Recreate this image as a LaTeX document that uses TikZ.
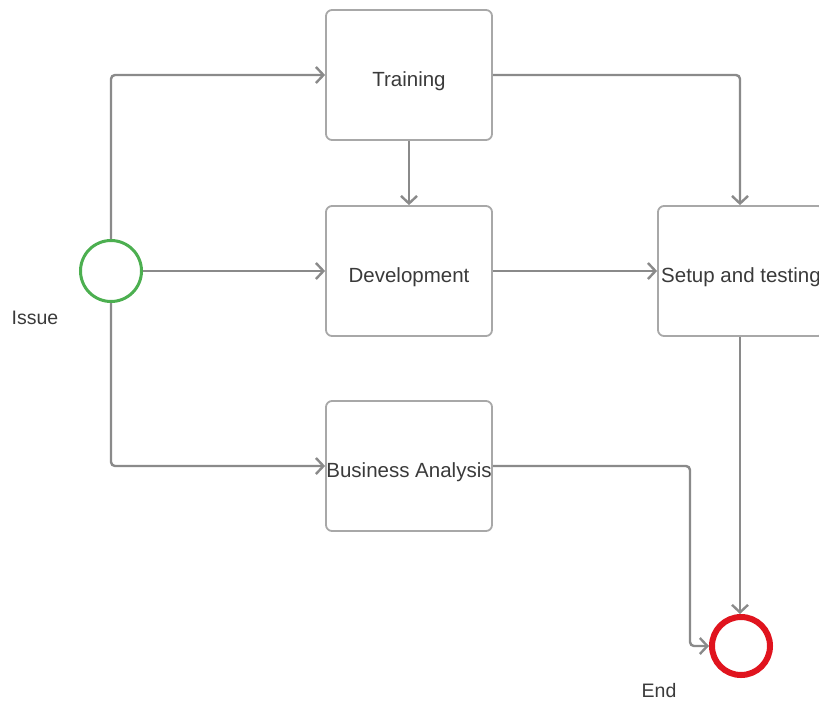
\documentclass[tikz,border=0pt]{standalone}
\usepackage{fontspec}
\setmainfont{Liberation Sans}
\usetikzlibrary{arrows.meta}
\definecolor{boxline}{HTML}{A8A8A8}
\definecolor{flow}{HTML}{8A8A8A}
\definecolor{ink}{HTML}{3A3A3A}
\definecolor{startgreen}{HTML}{4CAF50}
\definecolor{endred}{HTML}{E0141E}
\begin{document}
\begin{tikzpicture}[x=1pt,y=-1pt,
  task/.style={draw=boxline,line width=1.8pt,rounded corners=6pt,minimum width=166pt,minimum height=130pt,
    inner sep=0pt,text depth=0pt,font=\fontsize{20.5}{23}\selectfont,text=ink},
  tasktext/.style={font=\fontsize{20.5}{23}\selectfont,text=ink,inner sep=0pt},
  flowline/.style={draw=flow,line width=2.4pt,rounded corners=4pt,
    -{Straight Barb[length=7.5pt,width=16pt,line width=2.4pt]}},
  lbl/.style={font=\fontsize{19.5}{22}\selectfont,text=ink}]
\useasboundingbox (0,0) rectangle (819,702);
% tasks
\node[task] (train) at (409,75) {};
\node[task] (dev) at (409,271) {};
\node[task] (ba) at (409,466) {};
\node[task] (setup) at (741,271) {};
\node[tasktext] (traintxt) at ([yshift=-6pt]train.center) {Training};
\node[tasktext] (devtxt) at ([yshift=-6pt]dev.center) {Development};
\node[tasktext] (batxt) at ([yshift=-6pt]ba.center) {Business Analysis};
\node[tasktext] (setuptxt) at ([yshift=-6pt]setup.center) {Setup and testing};
% events
\node[circle,draw=startgreen,line width=3pt,minimum size=61pt,inner sep=0pt] (start) at (111,271) {};
\node[circle,draw=endred,line width=6pt,minimum size=58pt,inner sep=0pt] (end) at (741,646) {};
\node[lbl] (issue) at (35,318) {Issue};
\node[lbl] (endlbl) at (659,691) {End};
% flows
\draw[flowline] (start.north) |- (train.west);
\draw[flowline] (start.east) -- (dev.west);
\draw[flowline] (start.south) |- (ba.west);
\draw[flowline] (train.south) -- (dev.north);
\draw[flowline] (train.east) -| ([xshift=-1pt]setup.north);
\draw[flowline] (dev.east) -- (setup.west);
\draw[flowline] (ba.east) -| (690,646) -- (end.west);
\draw[flowline] ([xshift=-1pt]setup.south) -- ([xshift=-1pt]end.north);
\end{tikzpicture}
\end{document}
